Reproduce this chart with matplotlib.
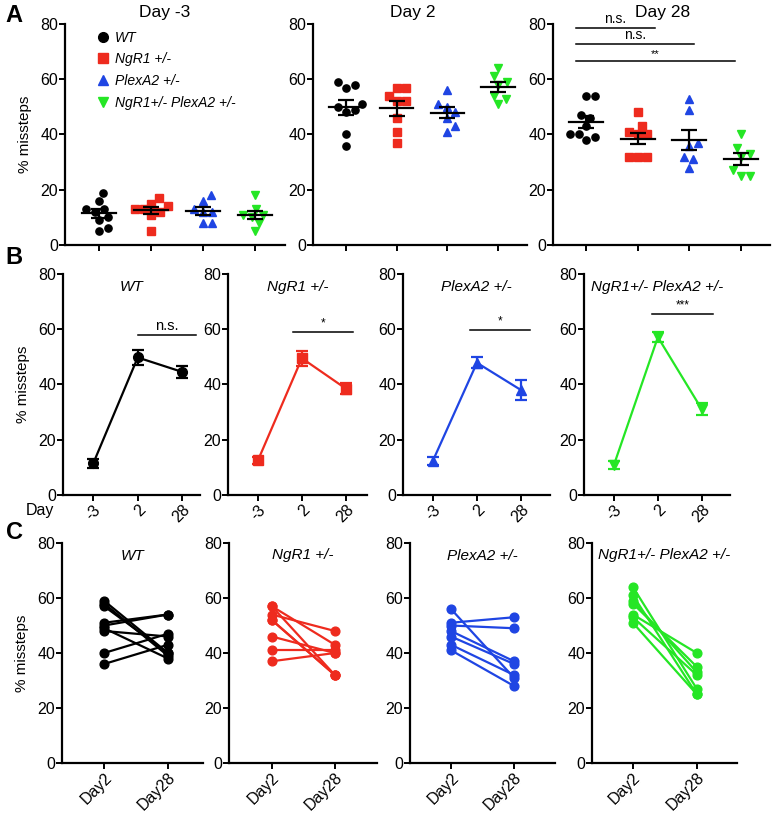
import numpy as np
import matplotlib.pyplot as plt
from matplotlib.lines import Line2D

plt.rcParams['font.family'] = ['Liberation Sans', 'DejaVu Sans']

# genotypes
groups = ['WT', 'NgR1 +/-', 'PlexA2 +/-', 'NgR1+/- PlexA2 +/-']
colors = ['#000000', '#ee2b1e', '#1f45e3', '#25e625']
markers = ['o', 's', '^', 'v']
days = ['Day -3', 'Day 2', 'Day 28']

# % missteps per animal
wt_dm3 = [19, 16, 13, 13, 12, 10, 9, 6, 5]
wt_d2 = [59, 58, 57, 51, 50, 49, 48, 40, 36]
wt_d28 = [40, 39, 40, 54, 54, 38, 46, 47, 43]

ngr_dm3 = [17, 15, 14, 13, 13, 12, 11, 5]
ngr_d2 = [57, 57, 54, 52, 52, 46, 41, 37]
ngr_d28 = [32, 43, 48, 32, 32, 40, 41, 40]

plx_dm3 = [18, 16, 13, 12, 12, 8, 8]
plx_d2 = [56, 51, 50, 48, 46, 43, 41]
plx_d28 = [31, 53, 49, 37, 36, 32, 28]

dbl_dm3 = [18, 13, 11, 11, 10, 8, 5]
dbl_d2 = [64, 61, 59, 58, 54, 53, 51]
dbl_d28 = [27, 25, 33, 35, 40, 32, 25]

data = [
    [wt_dm3, wt_d2, wt_d28],
    [ngr_dm3, ngr_d2, ngr_d28],
    [plx_dm3, plx_d2, plx_d28],
    [dbl_dm3, dbl_d2, dbl_d28],
]

b_stars = ['n.s.', '*', '*', '***']
a28_stars = ['n.s.', 'n.s.', '**']

W, H = 775, 813
fig = plt.figure(figsize=(W / 100, H / 100), dpi=100)


def add_ax(x0, x1, ytop, ybot):
    return fig.add_axes([x0 / W, 1 - ybot / H, (x1 - x0) / W, (ybot - ytop) / H])


def style(ax):
    for s in ['top', 'right']:
        ax.spines[s].set_visible(False)
    for s in ['left', 'bottom']:
        ax.spines[s].set_linewidth(1.6)
    ax.tick_params(direction='out', length=4, width=1.4, labelsize=11.5, pad=1)
    ax.set_ylim(0, 80)
    ax.set_yticks([0, 20, 40, 60, 80])


def swarm(vals, xscale, yscale, d=9.0):
    vals = np.asarray(vals, float)
    placed = []
    offs = np.zeros(len(vals))
    cands = [0.0]
    for k in range(1, 60):
        cands += [k * 0.5, -k * 0.5]
    for i in np.argsort(vals):
        y = vals[i] * yscale
        for x in cands:
            if all((x - px) ** 2 + (y - py) ** 2 >= d * d for px, py in placed):
                break
        placed.append((x, y))
        offs[i] = x / xscale
    return offs


# ---------------- A ----------------
a_pos = [(65, 285), (313, 527), (553, 770)]
a_title_x = [165, 413, 663]
for j, (x0, x1) in enumerate(a_pos):
    ax = add_ax(x0, x1, 24, 245)
    style(ax)
    ax.set_xlim(-0.65, 3.57)
    ax.set_xticks(range(4))
    ax.set_xticklabels([])
    fig.text(a_title_x[j] / W, 1 - 13 / H, days[j], fontsize=12.5,
             ha='center', va='center')
    xscale = (x1 - x0) / 4.22
    for g in range(4):
        v = np.array(data[g][j], float)
        off = swarm(v, xscale, 221 / 80)
        ax.plot(g + off, v, ls='none', marker=markers[g], ms=5.2,
                color=colors[g], mec=colors[g], zorder=2)
        m = v.mean()
        se = v.std(ddof=1) / np.sqrt(len(v))
        ax.plot([g - 0.33, g + 0.33], [m, m], color='k', lw=1.6, zorder=3)
        ax.errorbar(g, m, yerr=se, color='k', lw=1.6, capsize=6,
                    capthick=1.6, zorder=3)
    if j == 0:
        ax.set_ylabel('% missteps', fontsize=11, labelpad=6)
        handles = [Line2D([], [], ls='none', marker=markers[g], ms=7,
                          color=colors[g]) for g in range(4)]
        ax.legend(handles, groups, loc='upper left', bbox_to_anchor=(0.14, 0.97),
                  frameon=False, prop={'style': 'italic', 'size': 10},
                  handlelength=1.0, handletextpad=0.4, labelspacing=0.55,
                  borderpad=0, borderaxespad=0)
    if j == 2:
        lines = [(-0.2, 1.33, 78.6), (-0.2, 2.1, 72.8), (-0.2, 2.88, 66.6)]
        for (lx0, lx1, ly), s in zip(lines, a28_stars):
            ax.plot([lx0, lx1], [ly, ly], color='k', lw=1.1, clip_on=False)
            ax.text((lx0 + lx1) / 2, ly + 0.6, s, ha='center', va='bottom',
                    fontsize=10 if s != '**' else 8)

fig.text(14 / W, 1 - 15 / H, 'A', fontsize=17, fontweight='bold',
         ha='center', va='center')

# ---------------- B ----------------
b_pos = [(63, 200, 2.4), (228, 367, 2.48), (403, 550, 2.66), (584, 730, 2.64)]
b_lines = [(1.0, 2.3, 57.9), (0.8, 2.16, 59.0), (0.84, 2.2, 59.7), (0.86, 2.25, 65.5)]
for g, (x0, x1, xr) in enumerate(b_pos):
    ax = add_ax(x0, x1, 274, 495)
    style(ax)
    ax.set_xlim(-0.68, xr)
    ax.set_xticks(range(3))
    ax.set_xticklabels(['-3', '2', '28'], rotation=45, ha='right',
                       rotation_mode='anchor')
    means = [np.mean(d) for d in data[g]]
    ses = [np.std(d, ddof=1) / np.sqrt(len(d)) for d in data[g]]
    ax.errorbar(range(3), means, yerr=ses, color=colors[g], marker=markers[g],
                ms=7, lw=1.6, capsize=4, capthick=1.6)
    ax.text(0.5, 0.975, groups[g], transform=ax.transAxes, ha='center',
            va='top', fontsize=11, style='italic')
    lx0, lx1, ly = b_lines[g]
    ax.plot([lx0, lx1], [ly, ly], color='k', lw=1.1, clip_on=False)
    ax.text((lx0 + lx1) / 2, ly + 0.8, b_stars[g], ha='center', va='bottom',
            fontsize=10.5 if b_stars[g] == 'n.s.' else 8.5)
    if g == 0:
        ax.set_ylabel('% missteps', fontsize=11, labelpad=6)

fig.text(40 / W, 1 - 510 / H, 'Day', fontsize=11.5, ha='center', va='center')
fig.text(14 / W, 1 - 258 / H, 'B', fontsize=17, fontweight='bold',
         ha='center', va='center')

# ---------------- C ----------------
c_pos = [(62, 203, -0.66, 1.55), (229, 377, -0.68, 1.67),
         (410, 555, -0.65, 1.65), (592, 737, -0.64, 1.63)]
for g, (x0, x1, xl, xr) in enumerate(c_pos):
    ax = add_ax(x0, x1, 543, 763)
    style(ax)
    ax.set_xlim(xl, xr)
    ax.set_xticks([0, 1])
    ax.set_xticklabels(['Day2', 'Day28'], rotation=45, ha='right',
                       rotation_mode='anchor')
    for a, b in zip(data[g][1], data[g][2]):
        ax.plot([0, 1], [a, b], color=colors[g], marker='o', ms=6.3, lw=1.6)
    ax.text(0.5, 0.975, groups[g], transform=ax.transAxes, ha='center',
            va='top', fontsize=11, style='italic')
    if g == 0:
        ax.set_ylabel('% missteps', fontsize=11, labelpad=6)

fig.text(14 / W, 1 - 532 / H, 'C', fontsize=17, fontweight='bold',
         ha='center', va='center')

fig.savefig('out.png', dpi=100)
